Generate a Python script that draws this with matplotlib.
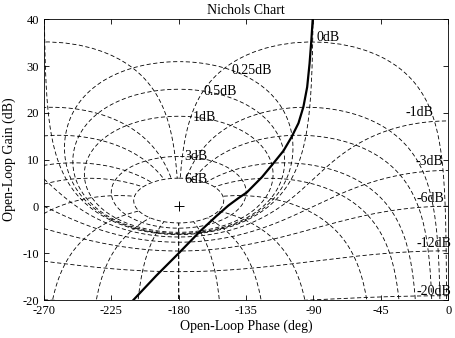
import numpy as np
import matplotlib
matplotlib.use('Agg')
import matplotlib.pyplot as plt
from matplotlib import rcParams
rcParams['font.family'] = 'Liberation Serif'
rcParams['axes.unicode_minus'] = False

# open-loop response (phase deg, gain dB)
phase = [-210.3, -195.0, -180.0, -165.7, -155.0, -146.8, -140.0, -134.5,
         -124.3, -116.8, -110.0, -104.5, -100.0, -96.7, -94.2, -92.6,
         -91.4, -90.5]
gain = [-20.0, -14.8, -10.0, -5.3, -2.1, 0.2, 1.8, 3.0,
        6.3, 9.2, 11.9, 14.9, 17.8, 21.3, 25.5, 30.5,
        35.5, 40.0]

# closed-loop grid values (ngrid)
m_db = [6, 3, 1, 0.5, 0.25, 0, -1, -3, -6, -12, -20, -40]
p_deg = [1, 5, 10, 20, 30, 50, 90, 120, 150, 180]

# dB labels of the grid
lab_txt = ['0dB', '0.25dB', '0.5dB', '1dB', '3dB', '6dB',
           '-1dB', '-3dB', '-6dB', '-12dB', '-20dB']
lab_ph = [-88.2, -144.6, -163.5, -170.7, -176.4, -176.2,
          -28.7, -22.0, -20.9, -21.4, -21.4]
lab_g = [36.2, 29.1, 24.5, 19.0, 10.6, 5.8,
         20.0, 9.7, 1.7, -8.0, -18.2]


def to_nichols(T):
    L = T / (1 - T)
    ph = np.degrees(np.angle(L))
    ph = np.where(ph > 0, ph - 360, ph).astype(float)
    g = (20 * np.log10(np.abs(L))).astype(float)
    # break the line where phase wraps
    jump = np.abs(np.diff(ph)) > 180
    ph[1:][jump] = np.nan
    return ph, g


fig = plt.figure(figsize=(4.55, 3.38), dpi=100)
ax = fig.add_axes([0.0967, 0.1124, 0.8883, 0.8306])

grid_kw = dict(color='k', lw=0.6, ls=(0, (5, 3)))

# constant closed-loop magnitude
psi = np.linspace(0.0005, 2 * np.pi - 0.0005, 4000)
for m in m_db:
    M = 10 ** (m / 20)
    ph, g = to_nichols(M * np.exp(1j * psi))
    ax.plot(ph, g, **grid_kw)

# constant closed-loop phase, stopped at the largest magnitude circle
r = np.logspace(-4, np.log10(10 ** (max(m_db) / 20)), 3000)
for p in p_deg:
    for s in (-1, 1):
        ph, g = to_nichols(r * np.exp(1j * np.radians(s * p)))
        ax.plot(ph, g, **grid_kw)

for t, x, y in zip(lab_txt, lab_ph, lab_g):
    ax.text(x, y, t, ha='left', va='center', fontsize=10)

ax.plot([-180], [0], marker='+', color='k', ms=7, mew=0.7)
ax.plot(phase, gain, color='k', lw=1.6)

ax.set_xlim(-270, 0)
ax.set_ylim(-20, 40)
ax.set_xticks(np.arange(-270, 1, 45))
ax.set_yticks(np.arange(-20, 41, 10))
ax.tick_params(direction='in', top=True, right=True, length=3.5,
               labelsize=9, width=0.6)
for sp in ax.spines.values():
    sp.set_linewidth(0.6)
ax.set_title('Nichols Chart', fontsize=10, pad=4)
ax.set_xlabel('Open-Loop Phase (deg)', fontsize=10, labelpad=2)
ax.set_ylabel('Open-Loop Gain (dB)', fontsize=10, labelpad=5)

fig.savefig('out.png', dpi=100)
